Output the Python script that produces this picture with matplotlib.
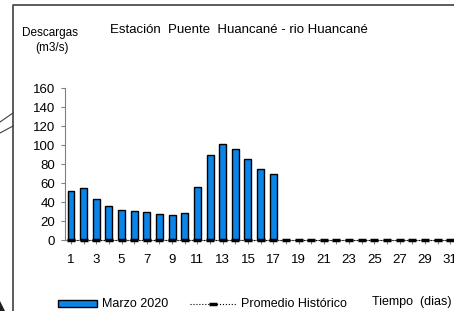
import matplotlib.pyplot as plt
from matplotlib.lines import Line2D
from matplotlib.patches import Rectangle, Polygon

plt.rcParams["font.family"] = ["Liberation Sans", "DejaVu Sans"]

days = list(range(1, 32))
marzo_2020 = [52, 55, 43, 36, 32, 31, 30, 27, 26, 28, 56, 89, 101, 96, 85, 75, 70]
promedio = [0] * 31
yticks = [0, 20, 40, 60, 80, 100, 120, 140, 160]
xlabels = [str(d) if d % 2 == 1 else "" for d in days]

fig = plt.figure(figsize=(4.54, 3.11), dpi=100)
ax = fig.add_axes([0.1425, 0.228, 0.863, 0.489])

ax.bar(days[:len(marzo_2020)], marzo_2020, width=0.55, color="#0a84e8",
       edgecolor="black", linewidth=1.0, zorder=2)
ax.plot(days, promedio, ls=":", color="black", lw=0.8, marker="_",
        markersize=6, mew=2.5, zorder=3, clip_on=False)

ax.set_xlim(0.5, 31.5)
ax.set_ylim(0, 160)
ax.set_yticks(yticks)
ax.set_xticks(days)
ax.set_xticklabels(xlabels)
for s in ["top", "right"]:
    ax.spines[s].set_visible(False)
for s in ["left", "bottom"]:
    ax.spines[s].set_color("#808080")
    ax.spines[s].set_linewidth(0.8)
ax.tick_params(axis="both", colors="#808080", labelcolor="black", labelsize=9.5,
               length=3, width=0.8)
ax.tick_params(axis="x", pad=7)
ax.tick_params(axis="y", pad=4)

# texts
fig.text(50 / 454, 1 - 33 / 311, "Descargas", fontsize=8.5, ha="center", va="center")
fig.text(52 / 454, 1 - 48 / 311, "(m3/s)", fontsize=8.5, ha="center", va="center")
fig.text(110 / 454, 1 - 30 / 311, "Estación  Puente  Huancané - rio Huancané",
         fontsize=9.5, ha="left", va="center")
fig.text(412 / 454, 1 - 302 / 311, "Tiempo  (dias)", fontsize=9, ha="center", va="center")

# legend
fig.patches.append(Rectangle((58 / 454, 1 - 307 / 311), 39 / 454, 7 / 311,
                             transform=fig.transFigure, facecolor="#0a84e8",
                             edgecolor="black", lw=1.0))
fig.text(102 / 454, 1 - 304 / 311, "Marzo 2020", fontsize=9, ha="left", va="center")
fig.add_artist(Line2D([190 / 454, 237 / 454], [1 - 304 / 311] * 2, ls=":",
                      color="black", lw=0.8, transform=fig.transFigure))
fig.add_artist(Line2D([213 / 454], [1 - 304 / 311], marker="_", markersize=6,
                      mew=2.5, color="black", transform=fig.transFigure))
fig.text(241 / 454, 1 - 304 / 311, "Promedio Histórico", fontsize=9, ha="left", va="center")

# frame and decorations on the left
fig.add_artist(Line2D([12.5 / 454, 12.5 / 454, 1], [0, 1 - 5 / 311, 1 - 5 / 311],
                      color="#404040", lw=1.2, transform=fig.transFigure))
fig.add_artist(Line2D([0, 13 / 454], [1 - 122 / 311, 1 - 113 / 311],
                      color="#404040", lw=0.8, transform=fig.transFigure))
fig.add_artist(Line2D([0, 13 / 454], [1 - 133 / 311, 1 - 126 / 311],
                      color="#404040", lw=0.8, transform=fig.transFigure))
fig.patches.append(Polygon([(0, 0), (5 / 454, 0), (0, 10 / 311)], closed=True,
                           transform=fig.transFigure, facecolor="#202020",
                           edgecolor="none"))

fig.savefig("out.png", dpi=100)
